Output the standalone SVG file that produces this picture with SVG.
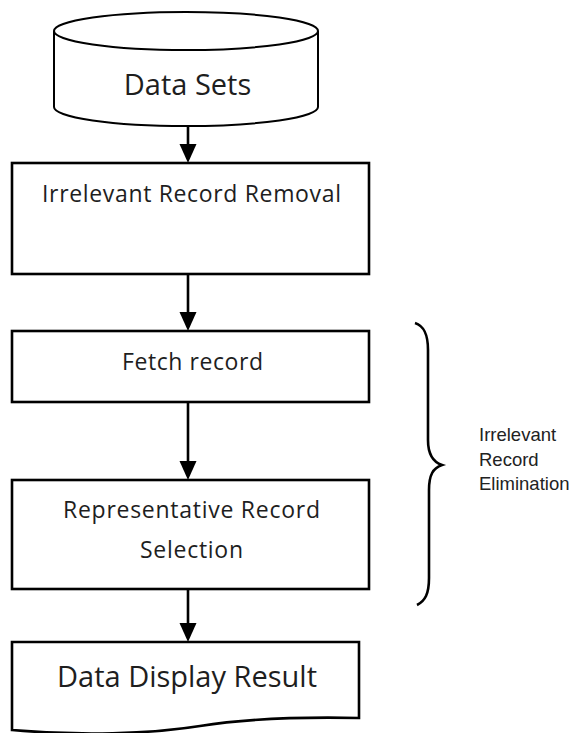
<svg xmlns="http://www.w3.org/2000/svg" width="573" height="733" viewBox="0 0 573 733">
<style>
.shape{fill:#fff;stroke:#000;stroke-width:2.6}
.cyl{fill:#fff;stroke:#000;stroke-width:2}
.lbl{font-family:"Open Sans","Noto Sans",sans-serif;fill:#1e1e1e;text-anchor:middle}
.side{font-family:"Liberation Sans",Arial,sans-serif;font-size:18.5px;fill:#222}
.conn{stroke:#000;stroke-width:2.6;fill:none}
.head{fill:#000}
</style>
<rect width="573" height="733" fill="#fff"/>
<g id="node-datasets">
<path class="cyl" d="M54,31 L54,107 A132,19 0 0 0 318,107 L318,31"/>
<ellipse class="cyl" cx="186" cy="31" rx="132" ry="19"/>
<text class="lbl" x="187.5" y="95" font-size="29">Data Sets</text>
</g>
<g id="node-removal">
<rect class="shape" x="12" y="163" width="357" height="111"/>
<text class="lbl" x="191.5" y="202" font-size="23" textLength="299">Irrelevant Record Removal</text>
</g>
<g id="node-fetch">
<rect class="shape" x="12" y="331" width="357" height="71"/>
<text class="lbl" x="192.5" y="370" font-size="23" textLength="141">Fetch record</text>
</g>
<g id="node-selection">
<rect class="shape" x="12" y="480" width="357" height="109"/>
<text class="lbl" x="191.5" y="518" font-size="23" textLength="257">Representative Record</text>
<text class="lbl" x="191.5" y="558" font-size="23" textLength="103">Selection</text>
</g>
<g id="node-result">
<path class="shape" d="M12,642 L359,642 L359,718 C310,717 250,718 200,726 C150,734 80,736 12,730 Z"/>
<text class="lbl" x="187" y="687" font-size="29" textLength="260">Data Display Result</text>
</g>
<g id="connectors">
<line class="conn" x1="188" y1="126" x2="188" y2="146"/>
<polygon class="head" points="179.5,144 196.5,144 188,163"/>
<line class="conn" x1="188" y1="274" x2="188" y2="314"/>
<polygon class="head" points="179.5,312 196.5,312 188,331"/>
<line class="conn" x1="188" y1="402" x2="188" y2="463"/>
<polygon class="head" points="179.5,461 196.5,461 188,480"/>
<line class="conn" x1="188" y1="589" x2="188" y2="625"/>
<polygon class="head" points="179.5,623 196.5,623 188,642"/>
</g>
<g id="brace">
<path class="conn" stroke-width="2.4" d="M415,323 C424,326 428,334 428,350 L428,440 C428,455 433,462 442,465 C433,468 429,475 429,490 L429,578 C429,594 425,601 417,605"/>
<text class="side" x="479" y="441">Irrelevant</text>
<text class="side" x="479" y="466">Record</text>
<text class="side" x="479" y="490">Elimination</text>
</g>
</svg>
